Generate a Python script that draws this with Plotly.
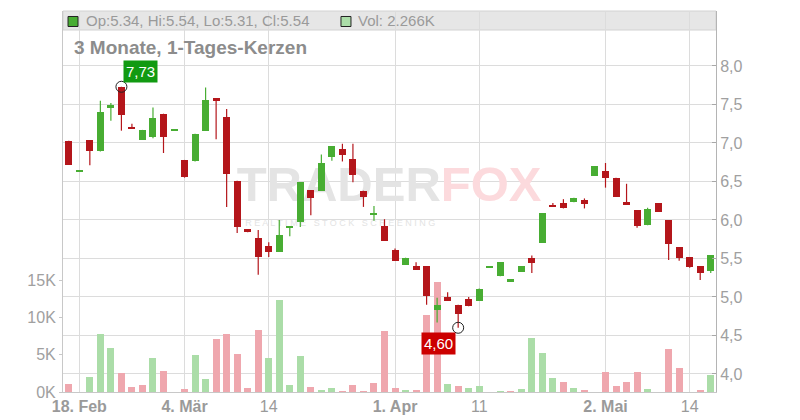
import plotly.graph_objects as go

dates = ["2025-02-17","2025-02-18","2025-02-19","2025-02-20","2025-02-21","2025-02-24","2025-02-25","2025-02-26","2025-02-27","2025-02-28",
         "2025-03-03","2025-03-04","2025-03-05","2025-03-06","2025-03-07","2025-03-10","2025-03-11","2025-03-12","2025-03-13","2025-03-14",
         "2025-03-17","2025-03-18","2025-03-19","2025-03-20","2025-03-21","2025-03-24","2025-03-25","2025-03-26","2025-03-27","2025-03-28",
         "2025-03-31","2025-04-01","2025-04-02","2025-04-03","2025-04-04","2025-04-07","2025-04-08","2025-04-09","2025-04-10","2025-04-11",
         "2025-04-14","2025-04-15","2025-04-16","2025-04-17","2025-04-22","2025-04-23","2025-04-24","2025-04-25","2025-04-28","2025-04-29",
         "2025-04-30","2025-05-02","2025-05-05","2025-05-06","2025-05-07","2025-05-08","2025-05-09","2025-05-12","2025-05-13","2025-05-14",
         "2025-05-15","2025-05-16"]

opens  = [7.03,6.63,7.04,6.89,7.45,7.73,7.21,7.04,7.08,7.38, 7.16,6.78,6.77,7.16,7.58,7.34,6.51,5.88,5.77,5.66,
          5.59,5.90,5.97,6.39,6.38,6.82,6.92,6.79,6.38,6.07, 5.92,5.61,5.42,5.40,5.40,4.83,5.00,4.90,4.97,4.95,
          5.38,5.27,5.20,5.33,5.50,5.70,6.20,6.22,6.23,6.26, 6.57,6.63,6.55,6.24,6.13,5.94,6.22,6.00,5.65,5.52,
          5.40,5.34]
highs  = [7.03,6.63,7.04,7.55,7.52,7.73,7.25,7.17,7.46,7.38, 7.16,6.78,7.12,7.72,7.58,7.44,6.51,5.88,5.87,5.71,
          6.00,5.92,6.49,6.39,6.85,6.96,6.99,6.99,6.38,6.18, 6.01,5.63,5.51,5.45,5.40,4.99,5.06,4.90,5.00,5.11,
          5.38,5.45,5.23,5.40,5.54,6.09,6.22,6.27,6.29,6.28, 6.70,6.74,6.55,6.47,6.13,6.16,6.22,6.00,5.65,5.52,
          5.40,5.54]
lows   = [6.72,6.63,6.71,6.89,7.29,7.16,7.19,7.04,7.06,6.87, 7.16,6.55,6.76,7.16,7.05,6.17,5.83,5.84,5.29,5.52,
          5.59,5.79,5.91,6.06,6.38,6.77,6.76,6.49,6.17,5.99, 5.73,5.47,5.42,5.35,4.90,4.67,4.95,4.60,4.88,4.95,
          5.38,5.27,5.20,5.33,5.31,5.70,6.17,6.15,6.23,6.15, 6.57,6.42,6.30,6.20,5.90,5.93,6.11,5.48,5.47,5.38,
          5.22,5.31]
closes = [6.72,6.63,6.90,7.40,7.49,7.36,7.19,7.17,7.33,7.08, 7.16,6.56,7.12,7.56,7.54,6.60,5.91,5.84,5.52,5.58,
          5.81,5.92,6.49,6.28,6.74,6.96,6.85,6.58,6.30,6.07, 5.73,5.47,5.51,5.35,5.01,4.90,4.95,4.78,4.88,5.10,
          5.38,5.45,5.23,5.40,5.44,6.09,6.17,6.15,6.29,6.21, 6.70,6.55,6.30,6.20,5.92,6.14,6.11,5.69,5.50,5.39,
          5.31,5.54]
volumes = [1080,0,2020,7810,5930,2560,670,940,4580,2830, 0,400,4980,1750,7140,7810,5120,540,8350,4580,
           12390,940,4850,670,270,540,130,940,130,1210, 8220,540,270,270,10370,14680,1080,810,540,810,
           0,130,130,400,7270,5250,1890,1350,540,270, 0,2690,810,1350,2690,400,0,5790,3230,0,
           270,2266]

tick_dates = ["2025-02-18","2025-03-04","2025-03-14","2025-04-01","2025-04-11","2025-05-02","2025-05-14"]
tick_labels = ["<b>18. Feb</b>","<b>4. Mär</b>","14","<b>1. Apr</b>","11","<b>2. Mai</b>","14"]
price_ticks = [4.0,4.5,5.0,5.5,6.0,6.5,7.0,7.5,8.0]
vol_ticks = [0,5000,10000,15000]
vol_tick_labels = ["0K","5K","10K","15K"]

GREEN = "#48ad33"
RED = "#b4161b"
VGREEN = "#abdda8"
VRED = "#efa7ae"
FONT = "Liberation Sans, Arial, sans-serif"

n = len(dates)
x = list(range(n))
up = [c >= o for o, c in zip(opens, closes)]
vol_up = [closes[0] >= opens[0]] + [closes[i] >= closes[i-1] for i in range(1, n)]

fig = go.Figure()

# watermark (drawn under everything)
fig.add_trace(go.Scatter(x=[35.35, 35.35], y=[27300, 27300], mode="text",
                         text=["<b>TRADER</b>", "<b>FOX</b>"],
                         textposition=["middle left", "middle right"],
                         textfont=dict(family=FONT, size=49, color=["#e4e4e4", "#fcdadd"]),
                         hoverinfo="skip", showlegend=False, xaxis="x", yaxis="y"))
fig.add_trace(go.Scatter(x=[25.8], y=[22500], mode="text",
                         text=["R E A L T I M E   S T O C K   S C R E E N I N G"],
                         textposition="middle center",
                         textfont=dict(family=FONT, size=9, color="#e3e3e3"),
                         hoverinfo="skip", showlegend=False, xaxis="x", yaxis="y"))

# volume
fig.add_trace(go.Bar(x=x, y=volumes, width=0.665,
                     marker=dict(color=[VGREEN if u else VRED for u in vol_up], line=dict(width=0)),
                     showlegend=False, xaxis="x", yaxis="y"))

# candle bodies
bases = [min(o, c) for o, c in zip(opens, closes)]
heights = [max(abs(c - o), 0.014) for o, c in zip(opens, closes)]
fig.add_trace(go.Bar(x=x, y=heights, base=bases, width=0.665,
                     marker=dict(color=[GREEN if u else RED for u in up], line=dict(width=0)),
                     showlegend=False, xaxis="x", yaxis="y2"))

# wicks
for flag, col in [(True, GREEN), (False, RED)]:
    wx, wy = [], []
    for i in range(n):
        if up[i] == flag:
            wx += [i, i, None]
            wy += [lows[i], highs[i], None]
    fig.add_trace(go.Scatter(x=wx, y=wy, mode="lines", line=dict(color=col, width=1.2),
                             hoverinfo="skip", showlegend=False, xaxis="x", yaxis="y2"))

# extremes
imax = max(range(n), key=lambda i: highs[i])
imin = min(range(n), key=lambda i: lows[i])
fig.add_trace(go.Scatter(x=[imax, imin], y=[highs[imax], lows[imin]], mode="markers",
                         marker=dict(symbol="circle-open", size=11, color="#222", line=dict(width=1)),
                         hoverinfo="skip", showlegend=False, xaxis="x", yaxis="y2"))

tickvals_x = [dates.index(d) for d in tick_dates]

# the page body has an 8px margin, so the figure is 8px smaller and margins shifted
fig.update_layout(
    width=792, height=412,
    margin=dict(l=55, r=84, t=3, b=28, autoexpand=False),
    paper_bgcolor="white", plot_bgcolor="white",
    barmode="overlay", bargap=0,
    font=dict(family=FONT, size=16, color="#9a9a9a"),
    showlegend=False,
    xaxis=dict(range=[-0.55, 61.5], tickvals=tickvals_x, ticktext=tick_labels, automargin=False,
               showgrid=True, gridcolor="#dcdcdc", gridwidth=1, zeroline=False,
               showline=True, linecolor="#c8c8c8", linewidth=1, ticks="",
               tickfont=dict(size=16, color="#9a9a9a")),
    yaxis=dict(range=[0, 51070], side="left", tickvals=vol_ticks, ticktext=vol_tick_labels, automargin=False,
               showgrid=False, zeroline=False, showline=True, linecolor="#c8c8c8", linewidth=1,
               ticks="outside", ticklen=3, tickcolor="#c8c8c8",
               tickfont=dict(size=16, color="#a0a0a0")),
    yaxis2=dict(range=[3.766, 8.714], side="right", overlaying="y", automargin=False,
                tickvals=price_ticks, ticktext=[f"{v:.1f}".replace(".", ",") for v in price_ticks],
                showgrid=True, gridcolor="#dcdcdc", gridwidth=1, zeroline=False,
                showline=True, linecolor="#b4b4b4", linewidth=1,
                ticks="inside", ticklen=4, tickcolor="#a8a8a8",
                tickfont=dict(size=16, color="#a0a0a0")),
)

# top info bar
fig.add_shape(type="rect", xref="paper", yref="paper", x0=0, x1=1, y0=0.9501, y1=1.0,
              fillcolor="#e6e6e6", line=dict(color="#d2d2d2", width=1), layer="below")
fig.add_shape(type="rect", xref="paper", yref="paper", x0=0.0077, x1=0.0230, y0=0.9593, y1=0.9856,
              fillcolor=GREEN, line=dict(color="#222", width=1))
fig.add_shape(type="rect", xref="paper", yref="paper", x0=0.4257, x1=0.4410, y0=0.9593, y1=0.9856,
              fillcolor=VGREEN, line=dict(color="#222", width=1))

info = f"Op:{opens[-1]:.2f}, Hi:{highs[-1]:.2f}, Lo:{lows[-1]:.2f}, Cl:{closes[-1]:.2f}"
fig.add_annotation(xref="paper", yref="paper", x=0.0322, y=0.9738, text=info, showarrow=False,
                   xanchor="left", yanchor="middle", font=dict(size=15, color="#9a9a9a"))
fig.add_annotation(xref="paper", yref="paper", x=0.4487, y=0.9738, text=f"Vol: {volumes[-1]/1000:.3f}K",
                   showarrow=False, xanchor="left", yanchor="middle", font=dict(size=15, color="#9a9a9a"))
fig.add_annotation(xref="paper", yref="paper", x=0.0138, y=0.903, text="<b>3 Monate, 1-Tages-Kerzen</b>",
                   showarrow=False, xanchor="left", yanchor="middle", font=dict(size=19, color="#8c8c8c"))

# extreme labels
fig.add_annotation(x=imax, y=highs[imax], xref="x", yref="y2",
                   text=f"{highs[imax]:.2f}".replace(".", ","), showarrow=False,
                   xanchor="left", yanchor="bottom", xshift=2, yshift=4,
                   bgcolor="#119a11", borderpad=2, font=dict(size=15, color="white"))
fig.add_annotation(x=imin, y=lows[imin], xref="x", yref="y2",
                   text=f"{lows[imin]:.2f}".replace(".", ","), showarrow=False,
                   xanchor="right", yanchor="top", xshift=-2, yshift=-4,
                   bgcolor="#cc0000", borderpad=2, font=dict(size=15, color="white"))

fig.write_html("out.html")
